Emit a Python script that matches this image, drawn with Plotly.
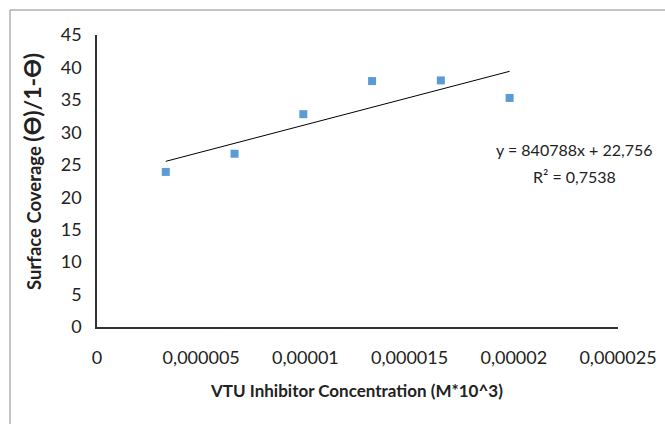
import numpy as np
import plotly.graph_objects as go

conc = [3.3e-6, 6.6e-6, 9.9e-6, 13.2e-6, 16.5e-6, 19.8e-6]
coverage = [23.9, 26.7, 32.8, 37.9, 38.0, 35.3]
slope = 840788
intercept = 22.756
r2_text = "0,7538"
x_tickvals = [0, 0.000005, 0.00001, 0.000015, 0.00002, 0.000025]
x_ticktext = ["0", "0,000005", "0,00001", "0,000015", "0,00002", "0,000025"]
y_tickvals = [0, 5, 10, 15, 20, 25, 30, 35, 40, 45]

FONT = "Lato"

trend_x = [min(conc), max(conc)]
trend_y = [slope * v + intercept for v in trend_x]

fig = go.Figure()
fig.add_trace(go.Scatter(x=trend_x, y=trend_y, mode="lines",
                         line=dict(color="black", width=1), showlegend=False))
fig.add_trace(go.Scatter(x=conc, y=coverage, mode="markers",
                         marker=dict(symbol="square", size=8, color="#5B9BD5"),
                         showlegend=False))

fig.update_layout(
    width=665, height=424,
    margin=dict(l=97, r=47, t=35, b=97),
    paper_bgcolor="white", plot_bgcolor="white",
    font=dict(family=FONT, size=18, color="#222"),
    xaxis=dict(range=[0, 0.000025], tickvals=x_tickvals, ticktext=x_ticktext,
               showgrid=False, zeroline=False, showline=True, linecolor="#333",
               linewidth=1.5, ticks="", ticklabelstandoff=14, automargin=False),
    yaxis=dict(range=[0, 45], tickvals=y_tickvals, showgrid=False, zeroline=False,
               showline=True, linecolor="#333", linewidth=1.5, ticks="",
               ticklabelstandoff=10, automargin=False),
    shapes=[dict(type="rect", xref="paper", yref="paper",
                 x0=(10 - 97) / 521, x1=(700 - 97) / 521,
                 y0=(327 - 460) / 292, y1=(327 - 10) / 292,
                 line=dict(color="#8a8a8a", width=1), layer="below")],
    annotations=[
        dict(text=f"y = {slope}x + {str(intercept).replace('.', ',')}",
             xref="paper", yref="paper", x=(574 - 97) / 521, y=(327 - 149) / 292,
             xanchor="center", yanchor="middle",
             showarrow=False, font=dict(size=16, family=FONT)),
        dict(text=f"R² = {r2_text}",
             xref="paper", yref="paper", x=(574 - 97) / 521, y=(327 - 177) / 292,
             xanchor="center", yanchor="middle",
             showarrow=False, font=dict(size=16, family=FONT)),
        dict(text="<b>Surface Coverage <span style='font-size:23px'>(ϴ)/1-ϴ)</span></b>",
             textangle=-90,
             xref="paper", yref="paper", x=(32 - 97) / 521, y=(327 - 172) / 292,
             xanchor="center", yanchor="middle",
             showarrow=False, font=dict(size=18.5, family=FONT)),
        dict(text="<b>VTU Inhibitor Concentration (M*10^3)</b>",
             xref="paper", yref="paper", x=(356 - 97) / 521, y=(327 - 390) / 292,
             xanchor="center", yanchor="middle",
             showarrow=False, font=dict(size=17, family=FONT)),
    ],
)

fig.write_html("out.html", config={"displayModeBar": False},
               post_script="document.body.style.margin='0';")
